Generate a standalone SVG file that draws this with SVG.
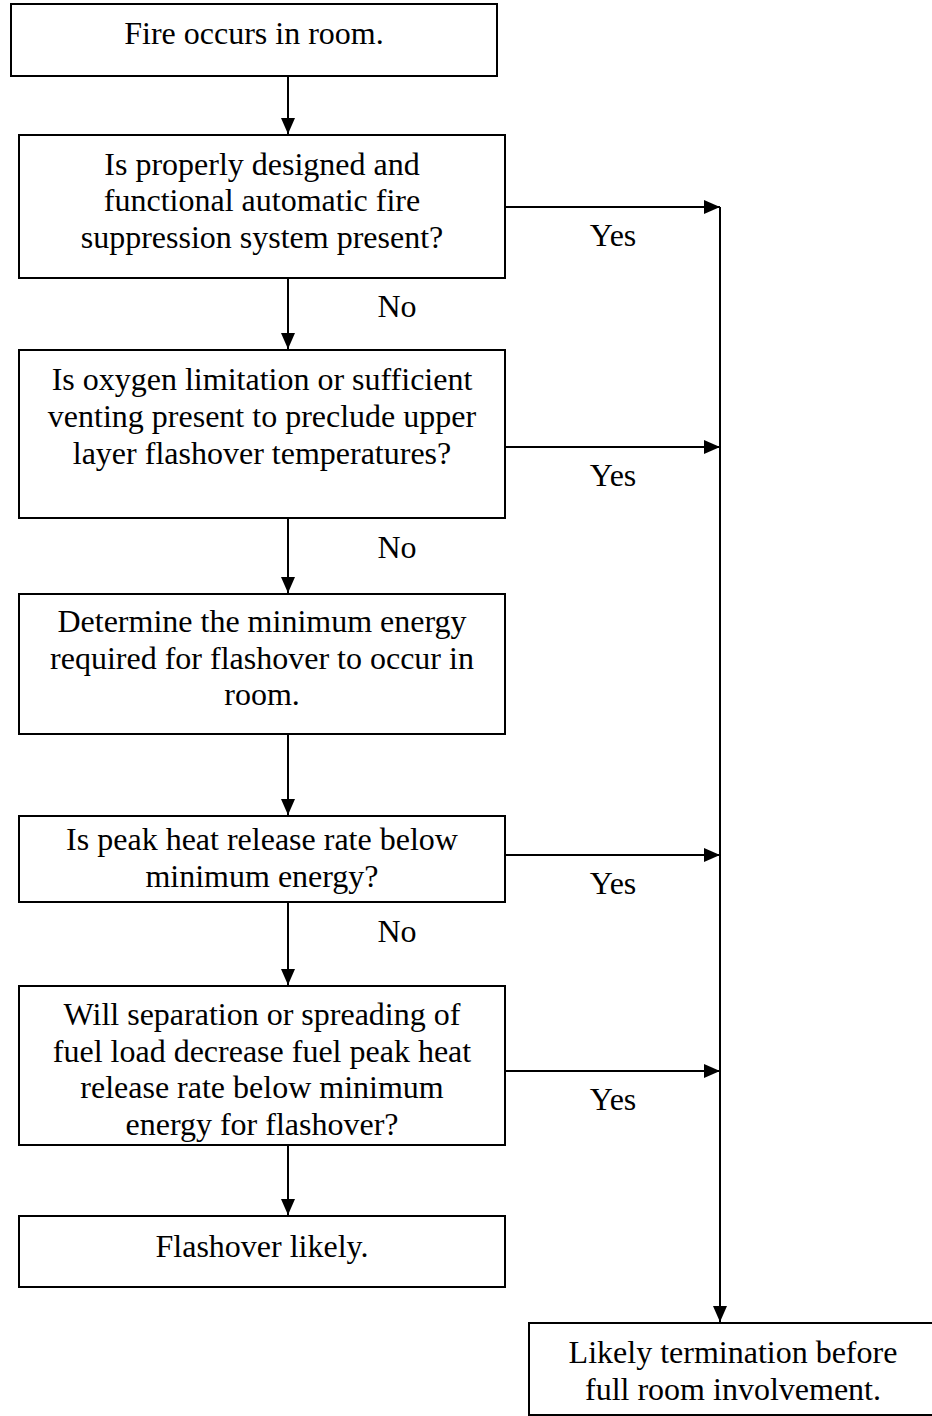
<svg xmlns="http://www.w3.org/2000/svg" width="932" height="1416" viewBox="0 0 932 1416">
<style>
.box{fill:#fff;stroke:#000;stroke-width:2}
.t{font-family:"Liberation Serif","Times New Roman",serif;font-size:32px;fill:#000;text-anchor:middle}
.c{fill:none;stroke:#000;stroke-width:2}
</style>
<defs>
<marker id="ah" viewBox="0 0 16 14" refX="16" refY="7" markerWidth="16" markerHeight="14" markerUnits="userSpaceOnUse" orient="auto">
<path d="M0,0 L16,7 L0,14 z" fill="#000"/>
</marker>
</defs>
<rect width="932" height="1416" fill="#fff"/>
<g id="connectors">
<line class="c" x1="288" y1="76" x2="288" y2="134" marker-end="url(#ah)"/>
<line class="c" x1="288" y1="278" x2="288" y2="349" marker-end="url(#ah)"/>
<line class="c" x1="288" y1="518" x2="288" y2="593" marker-end="url(#ah)"/>
<line class="c" x1="288" y1="734" x2="288" y2="815" marker-end="url(#ah)"/>
<line class="c" x1="288" y1="902" x2="288" y2="985" marker-end="url(#ah)"/>
<line class="c" x1="288" y1="1145" x2="288" y2="1215" marker-end="url(#ah)"/>
<line class="c" x1="505" y1="207" x2="720" y2="207" marker-end="url(#ah)"/>
<line class="c" x1="505" y1="447" x2="720" y2="447" marker-end="url(#ah)"/>
<line class="c" x1="505" y1="855" x2="720" y2="855" marker-end="url(#ah)"/>
<line class="c" x1="505" y1="1071" x2="720" y2="1071" marker-end="url(#ah)"/>
<line class="c" x1="720" y1="207" x2="720" y2="1322" marker-end="url(#ah)"/>
<text class="t" x="397" y="317">No</text>
<text class="t" x="397" y="558">No</text>
<text class="t" x="397" y="942">No</text>
<text class="t" x="613" y="246">Yes</text>
<text class="t" x="613" y="486">Yes</text>
<text class="t" x="613" y="894">Yes</text>
<text class="t" x="613" y="1110">Yes</text>
</g>
<g id="n1">
<rect class="box" x="11" y="4" width="486" height="72"/>
<text class="t" x="254" y="44">Fire occurs in room.</text>
</g>
<g id="n2">
<rect class="box" x="19" y="135" width="486" height="143"/>
<text class="t" x="262" y="175">Is properly designed and</text>
<text class="t" x="262" y="211">functional automatic fire</text>
<text class="t" x="262" y="248">suppression system present?</text>
</g>
<g id="n3">
<rect class="box" x="19" y="350" width="486" height="168"/>
<text class="t" x="262" y="390">Is oxygen limitation or sufficient</text>
<text class="t" x="262" y="427">venting present to preclude upper</text>
<text class="t" x="262" y="464">layer flashover temperatures?</text>
</g>
<g id="n4">
<rect class="box" x="19" y="594" width="486" height="140"/>
<text class="t" x="262" y="632">Determine the minimum energy</text>
<text class="t" x="262" y="669">required for flashover to occur in</text>
<text class="t" x="262" y="705">room.</text>
</g>
<g id="n5">
<rect class="box" x="19" y="816" width="486" height="86"/>
<text class="t" x="262" y="850">Is peak heat release rate below</text>
<text class="t" x="262" y="887">minimum energy?</text>
</g>
<g id="n6">
<rect class="box" x="19" y="986" width="486" height="159"/>
<text class="t" x="262" y="1025">Will separation or spreading of</text>
<text class="t" x="262" y="1062">fuel load decrease fuel peak heat</text>
<text class="t" x="262" y="1098">release rate below minimum</text>
<text class="t" x="262" y="1135">energy for flashover?</text>
</g>
<g id="n7">
<rect class="box" x="19" y="1216" width="486" height="71"/>
<text class="t" x="262" y="1257">Flashover likely.</text>
</g>
<g id="n8">
<rect class="box" x="529" y="1323" width="410" height="92"/>
<text class="t" x="733" y="1363">Likely termination before</text>
<text class="t" x="733" y="1400">full room involvement.</text>
</g>
</svg>
